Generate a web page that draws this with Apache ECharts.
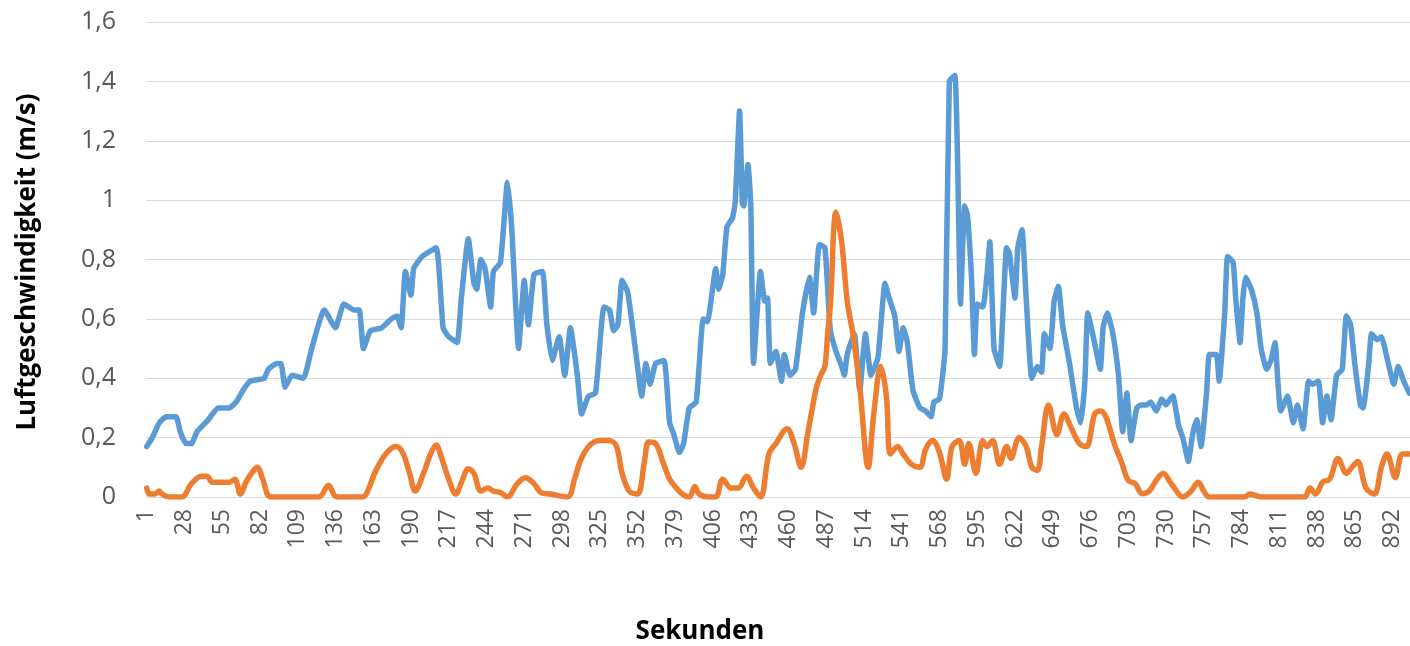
<!DOCTYPE html>
<html>
<head>
<meta charset="utf-8">
<script src="https://cdn.jsdelivr.net/npm/echarts@6/dist/echarts.min.js"></script>
<style>
  html, body { margin: 0; padding: 0; background: #ffffff; }
  #chart { width: 1410px; height: 646px; }
</style>
</head>
<body>
<div id="chart"></div>
<script>
// ---- Data ----
const lastSecond = 904;
const xTickLabels = ['1','28','55','82','109','136','163','190','217','244','271','298','325','352','379','406','433','460','487','514','541','568','595','622','649','676','703','730','757','784','811','838','865','892'];
const yTickLabels = ['0','0,2','0,4','0,6','0,8','1','1,2','1,4','1,6'];

const blueSec = [1,5,10,15,22,25,29,33,37,45,52,60,65,70,75,85,88,94,97,100,105,113,119,128,136,142,149,153,156,161,169,176,180,183,186,190,192,198,208,213,217,223,226,231,235,237,240,243,247,249,254,259,262,267,271,274,278,284,287,291,296,300,304,309,312,317,322,328,332,335,338,341,345,351,355,358,361,365,371,375,378,382,385,389,394,399,402,404,408,410,413,416,420,422,425,427,428,431,433,435,440,443,445,447,451,455,457,461,465,470,475,478,482,486,488,490,494,498,500,502,507,511,515,519,524,529,532,536,539,542,545,549,554,558,562,564,568,572,575,579,581,583,586,588,591,593,595,599,602,604,607,611,616,618,622,624,627,630,634,638,641,643,647,650,653,656,661,666,669,672,674,678,683,685,688,692,696,699,702,705,709,712,716,719,723,727,730,733,735,739,742,746,749,752,755,759,761,766,768,772,774,778,780,783,785,787,791,795,798,802,805,808,810,812,817,821,824,828,832,835,839,842,845,848,852,856,859,862,865,869,871,875,877,881,884,888,893,896,900,904];
const blueVal = [0.17,0.20,0.25,0.27,0.27,0.22,0.18,0.18,0.22,0.26,0.30,0.30,0.32,0.36,0.39,0.40,0.43,0.45,0.45,0.37,0.41,0.40,0.50,0.63,0.57,0.65,0.63,0.63,0.50,0.56,0.57,0.60,0.61,0.57,0.76,0.68,0.77,0.81,0.84,0.57,0.54,0.52,0.67,0.87,0.72,0.70,0.80,0.77,0.64,0.76,0.79,1.06,0.91,0.50,0.73,0.58,0.75,0.76,0.59,0.46,0.54,0.41,0.57,0.41,0.28,0.34,0.35,0.64,0.63,0.56,0.58,0.73,0.69,0.48,0.34,0.45,0.38,0.45,0.46,0.25,0.21,0.15,0.18,0.30,0.32,0.60,0.59,0.64,0.77,0.70,0.75,0.91,0.94,1.00,1.30,0.99,0.98,1.12,0.99,0.45,0.76,0.66,0.67,0.45,0.49,0.39,0.48,0.41,0.43,0.62,0.74,0.62,0.85,0.84,0.70,0.56,0.49,0.44,0.41,0.48,0.55,0.36,0.55,0.41,0.47,0.72,0.67,0.61,0.49,0.57,0.52,0.36,0.30,0.29,0.27,0.32,0.33,0.50,1.40,1.42,1.12,0.65,0.98,0.95,0.73,0.48,0.65,0.64,0.75,0.86,0.50,0.44,0.84,0.82,0.67,0.84,0.90,0.67,0.40,0.44,0.42,0.55,0.50,0.66,0.71,0.58,0.45,0.30,0.25,0.39,0.62,0.54,0.43,0.57,0.62,0.55,0.41,0.22,0.35,0.19,0.30,0.31,0.31,0.32,0.29,0.33,0.31,0.33,0.34,0.24,0.20,0.12,0.21,0.26,0.17,0.35,0.48,0.48,0.39,0.62,0.81,0.79,0.66,0.52,0.67,0.74,0.70,0.62,0.50,0.43,0.46,0.52,0.39,0.29,0.34,0.25,0.31,0.23,0.39,0.38,0.39,0.25,0.34,0.26,0.41,0.43,0.61,0.58,0.45,0.31,0.30,0.45,0.55,0.53,0.54,0.47,0.38,0.44,0.39,0.35];

const orangeSec = [1,3,7,10,12,17,26,33,40,44,48,55,60,64,68,72,76,80,84,90,124,131,137,155,158,165,172,179,184,189,193,199,204,208,212,217,222,227,231,235,240,245,249,254,259,266,272,278,283,290,302,307,311,317,325,332,337,341,346,352,357,360,365,370,375,379,384,389,393,396,403,408,413,419,424,430,435,440,446,451,459,464,469,474,480,483,486,488,490,494,498,502,506,511,517,521,526,530,533,538,542,548,554,558,563,568,573,577,582,586,589,594,599,602,606,611,616,619,625,630,634,638,641,646,652,657,662,668,673,679,683,687,693,698,703,708,713,718,723,728,733,736,742,748,753,757,761,786,790,794,798,829,833,837,842,847,853,859,863,867,873,879,884,888,894,899,904];
const orangeVal = [0.03,0.01,0.01,0.02,0.01,0.00,0.00,0.045,0.07,0.07,0.05,0.05,0.05,0.06,0.01,0.05,0.08,0.10,0.06,0.00,0.00,0.04,0.00,0.00,0.01,0.09,0.145,0.17,0.15,0.08,0.02,0.08,0.145,0.175,0.13,0.06,0.01,0.06,0.095,0.08,0.02,0.03,0.02,0.015,0.00,0.045,0.065,0.045,0.015,0.01,0.00,0.06,0.12,0.17,0.19,0.19,0.17,0.08,0.02,0.01,0.12,0.185,0.18,0.12,0.06,0.035,0.01,0.00,0.035,0.01,0.00,0.00,0.06,0.03,0.03,0.07,0.03,0.00,0.145,0.18,0.23,0.18,0.10,0.22,0.37,0.41,0.44,0.55,0.65,0.96,0.86,0.66,0.55,0.37,0.10,0.28,0.44,0.34,0.145,0.17,0.145,0.11,0.10,0.16,0.19,0.15,0.06,0.17,0.19,0.11,0.18,0.08,0.19,0.17,0.19,0.11,0.17,0.13,0.20,0.17,0.10,0.09,0.17,0.31,0.21,0.28,0.235,0.18,0.17,0.28,0.29,0.27,0.18,0.12,0.056,0.045,0.011,0.02,0.056,0.08,0.05,0.03,0.00,0.02,0.05,0.02,0.00,0.00,0.01,0.005,0.00,0.00,0.03,0.01,0.05,0.06,0.13,0.08,0.10,0.12,0.03,0.01,0.10,0.145,0.065,0.145,0.145];

// ---- Build chart ----
const categories = [];
for (let s = 1; s <= lastSecond; s++) categories.push(String(s));

const bluePairs = blueSec.map((s, i) => [String(s), blueVal[i]]);
const orangePairs = orangeSec.map((s, i) => [String(s), orangeVal[i]]);

const labelFont = '"Open Sans", "Liberation Sans", sans-serif';
const chart = echarts.init(document.getElementById('chart'), null, { renderer: 'canvas' });

chart.setOption({
  animation: false,
  backgroundColor: '#ffffff',
  grid: { left: 146, right: 0, top: 22, bottom: 149, containLabel: false },
  xAxis: {
    type: 'category',
    data: categories,
    boundaryGap: true,
    axisLine: { show: true, lineStyle: { color: '#d9d9d9', width: 1 } },
    axisTick: { show: false },
    splitLine: { show: false },
    axisLabel: {
      interval: (idx, val) => xTickLabels.includes(val),
      rotate: 90,
      margin: 12,
      color: '#595959',
      fontSize: 23,
      fontFamily: labelFont
    }
  },
  yAxis: {
    type: 'value',
    min: 0,
    max: 1.6,
    interval: 0.2,
    axisLine: { show: false },
    axisTick: { show: false },
    splitLine: { show: true, lineStyle: { color: '#d9d9d9', width: 1.2 } },
    axisLabel: {
      margin: 30,
      color: '#595959',
      fontSize: 25,
      fontFamily: labelFont,
      formatter: (v) => yTickLabels[Math.round(v / 0.2)]
    }
  },
  graphic: [
    {
      type: 'text',
      x: 28, y: 262,
      rotation: Math.PI / 2,
      style: {
        text: 'Luftgeschwindigkeit (m/s)',
        font: 'bold 26px "Open Sans", sans-serif',
        fill: '#000000',
        align: 'center',
        verticalAlign: 'middle'
      }
    },
    {
      type: 'text',
      x: 700, y: 632,
      style: {
        text: 'Sekunden',
        font: 'bold 26px "Open Sans", sans-serif',
        fill: '#000000',
        align: 'center',
        verticalAlign: 'middle'
      }
    }
  ],
  series: [
    {
      name: 'blau',
      type: 'line',
      data: bluePairs,
      symbol: 'none',
      smooth: 0.15,
      lineStyle: { color: '#5B9BD5', width: 5.5, cap: 'round', join: 'round' },
      itemStyle: { color: '#5B9BD5' }
    },
    {
      name: 'orange',
      type: 'line',
      data: orangePairs,
      symbol: 'none',
      smooth: 0.35,
      lineStyle: { color: '#ED7D31', width: 5.5, cap: 'round', join: 'round' },
      itemStyle: { color: '#ED7D31' }
    }
  ]
});
</script>
</body>
</html>
